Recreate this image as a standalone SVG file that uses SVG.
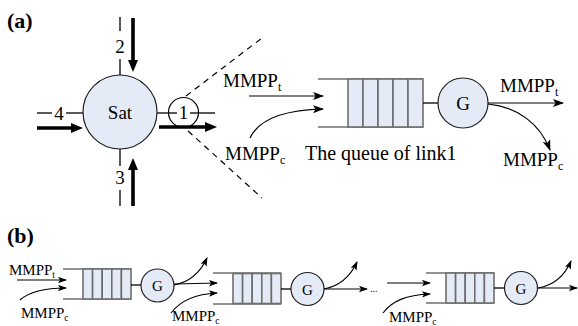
<svg xmlns="http://www.w3.org/2000/svg" width="578" height="326" viewBox="0 0 578 326">
  <style>
    text { font-family: "Liberation Serif", "Times New Roman", serif; fill: #000; }
    .ln { stroke: #000; stroke-width: 1.3; fill: none; }
    .thick { stroke: #000; stroke-width: 3.6; fill: none; marker-end: url(#bighead); }
    .arr { stroke: #000; stroke-width: 1.2; fill: none; marker-end: url(#head); }
    .arrs { stroke: #000; stroke-width: 1.1; fill: none; marker-end: url(#headsm); }
    .dash { stroke: #000; stroke-width: 1.2; fill: none; stroke-dasharray: 6 5; }
    .node { fill: #e4ebf6; stroke: #222; stroke-width: 1.2; }
    .cell { fill: #e4ebf6; stroke: #6e6e6e; stroke-width: 1.6; }
    .rail { stroke: #6e6e6e; stroke-width: 1.6; fill: none; }
    .big { font-size: 19px; }
    .sub { font-size: 12px; }
    .small { font-size: 15px; }
    .ssub { font-size: 9.5px; }
  </style>
  <defs>
    <marker id="bighead" markerUnits="userSpaceOnUse" markerWidth="13" markerHeight="11" refX="3" refY="5" orient="auto">
      <path d="M0,0 L12,5 L0,10 z" fill="#000"/>
    </marker>
    <marker id="head" markerUnits="userSpaceOnUse" markerWidth="12" markerHeight="9" refX="10" refY="4" orient="auto">
      <path d="M0,0 L11,4 L0,8 L2.5,4 z" fill="#000"/>
    </marker>
    <marker id="headsm" markerUnits="userSpaceOnUse" markerWidth="10" markerHeight="8" refX="8" refY="3.25" orient="auto">
      <path d="M0,0 L9,3.25 L0,6.5 L2,3.25 z" fill="#000"/>
    </marker>
    <g id="cells-a">
      <rect class="cell" x="0" y="0" width="15" height="48"/>
      <rect class="cell" x="15" y="0" width="15" height="48"/>
      <rect class="cell" x="30" y="0" width="15" height="48"/>
      <rect class="cell" x="45" y="0" width="15" height="48"/>
      <rect class="cell" x="60" y="0" width="15" height="48"/>
    </g>
    <g id="cells-b">
      <rect class="cell" x="0" y="0" width="9.6" height="30"/>
      <rect class="cell" x="9.6" y="0" width="9.6" height="30"/>
      <rect class="cell" x="19.2" y="0" width="9.6" height="30"/>
      <rect class="cell" x="28.8" y="0" width="9.6" height="30"/>
      <rect class="cell" x="38.4" y="0" width="9.6" height="30"/>
    </g>
  </defs>

  <!-- panel labels -->
  <text x="7" y="28" font-size="22" font-weight="bold">(a)</text>
  <text x="7" y="243" font-size="22" font-weight="bold">(b)</text>

  <!-- (a) satellite with its four links -->
  <g id="sat">
    <circle class="node" cx="120" cy="112" r="37"/>
    <text x="120" y="119" class="big" font-size="20" text-anchor="middle">Sat</text>
  </g>
  <g id="link2">
    <line class="ln" x1="120" y1="17" x2="120" y2="31"/>
    <text x="120" y="53" class="big" text-anchor="middle">2</text>
    <line class="ln" x1="120" y1="59" x2="120" y2="75"/>
  </g>
  <g id="link3">
    <line class="ln" x1="120" y1="149" x2="120" y2="166"/>
    <text x="120" y="184" class="big" text-anchor="middle">3</text>
    <line class="ln" x1="120" y1="190" x2="120" y2="206"/>
  </g>
  <g id="link4">
    <line class="ln" x1="37" y1="113" x2="52" y2="113"/>
    <text x="59" y="119.5" class="big" text-anchor="middle">4</text>
    <line class="ln" x1="66" y1="113" x2="83" y2="113"/>
  </g>
  <g id="link1">
    <line class="ln" x1="157" y1="113" x2="177" y2="113"/>
    <circle cx="183.5" cy="112.5" r="15" fill="none" stroke="#000" stroke-width="1.2"/>
    <text x="183.5" y="119" class="big" text-anchor="middle">1</text>
    <line class="ln" x1="190" y1="113" x2="215" y2="113"/>
  </g>

  <!-- (a) queue of link 1 -->
  <g id="queue-a">
    <line class="rail" x1="318" y1="79" x2="423" y2="79"/>
    <line class="rail" x1="318" y1="127" x2="423" y2="127"/>
    <use href="#cells-a" x="348" y="79"/>
    <line class="ln" x1="423" y1="103" x2="438" y2="103"/>
  </g>
  <g id="server-a">
    <circle class="node" cx="463" cy="103" r="25"/>
    <text x="463" y="110" class="big" text-anchor="middle">G</text>
  </g>

  <!-- (b) tandem of queues -->
  <g id="queue-b1">
    <line class="rail" x1="63" y1="269" x2="131" y2="269"/>
    <line class="rail" x1="63" y1="299" x2="131" y2="299"/>
    <use href="#cells-b" x="83" y="269"/>
    <line class="ln" x1="131" y1="285" x2="141" y2="285"/>
  </g>
  <g id="server-b1">
    <circle class="node" cx="157.5" cy="285.5" r="16.5"/>
    <text x="157.5" y="291" class="small" font-size="16" text-anchor="middle">G</text>
  </g>
  <g id="queue-b2">
    <line class="rail" x1="213" y1="273" x2="281" y2="273"/>
    <line class="rail" x1="213" y1="304" x2="281" y2="304"/>
    <use href="#cells-b" x="233" y="273.5"/>
    <line class="ln" x1="281" y1="289" x2="291" y2="289"/>
  </g>
  <g id="server-b2">
    <circle class="node" cx="307.5" cy="289" r="16.5"/>
    <text x="307.5" y="294.5" class="small" font-size="16" text-anchor="middle">G</text>
  </g>
  <g id="queue-b3">
    <line class="rail" x1="426" y1="273" x2="494" y2="273"/>
    <line class="rail" x1="426" y1="303" x2="494" y2="303"/>
    <use href="#cells-b" x="446" y="273"/>
    <line class="ln" x1="494" y1="288" x2="504" y2="288"/>
  </g>
  <g id="server-b3">
    <circle class="node" cx="521" cy="288" r="16.5"/>
    <text x="521" y="293.5" class="small" font-size="16" text-anchor="middle">G</text>
  </g>

  <!-- connectors -->
  <g id="connectors">
    <!-- traffic on the satellite links -->
    <line class="thick" x1="133" y1="18" x2="133" y2="63"/>
    <line class="thick" x1="133" y1="206" x2="133" y2="167"/>
    <line class="thick" x1="37" y1="128" x2="74" y2="128"/>
    <line class="thick" x1="159" y1="127" x2="208" y2="127"/>
    <!-- zoom-out guides -->
    <line class="dash" x1="186" y1="96" x2="262" y2="38"/>
    <line class="dash" x1="188" y1="131" x2="262" y2="198"/>
    <!-- (a) arrivals and departures -->
    <line class="arr" x1="249" y1="96" x2="323" y2="96"/>
    <path class="arr" d="M250,138 C258,121 280,110 323,109"/>
    <line class="arr" x1="488" y1="103" x2="563" y2="103"/>
    <path class="arr" d="M488,104 C518,107 540,124 550,150"/>
    <!-- (b) flows -->
    <line class="arrs" x1="17" y1="280" x2="66" y2="280"/>
    <path class="arrs" d="M20,300 C30,291 45,288 66,288"/>
    <path class="arrs" d="M174,285 C190,282 201,271 207,258"/>
    <line class="arrs" x1="174" y1="284" x2="217" y2="283"/>
    <path class="arrs" d="M171,313 C180,301 196,294 217,293"/>
    <path class="arrs" d="M324,289 C340,286 351,275 357,262"/>
    <line class="arrs" x1="324" y1="289" x2="367" y2="289"/>
    <line class="arrs" x1="387" y1="283" x2="430" y2="283"/>
    <path class="arrs" d="M383,313 C392,301 406,295 430,294"/>
    <path class="arrs" d="M538,288 C555,285 565,275 571,261"/>
    <line class="arrs" x1="538" y1="288" x2="577" y2="288"/>
  </g>

  <!-- flow labels -->
  <text x="223" y="87" class="big">MMPP<tspan class="sub" dy="4">t</tspan></text>
  <text x="225" y="160" class="big">MMPP<tspan class="sub" dy="4">c</tspan></text>
  <text x="305" y="160" font-size="20">The queue of link1</text>
  <text x="500" y="92" class="big">MMPP<tspan class="sub" dy="4">t</tspan></text>
  <text x="503" y="166" class="big">MMPP<tspan class="sub" dy="4">c</tspan></text>

  <text x="9" y="275" class="small">MMPP<tspan class="ssub" dy="3">t</tspan></text>
  <text x="21" y="318" class="small">MMPP<tspan class="ssub" dy="3">c</tspan></text>
  <text x="172" y="321" class="small">MMPP<tspan class="ssub" dy="3">c</tspan></text>
  <text x="370" y="292" font-size="10">...</text>
  <text x="389" y="322" class="small">MMPP<tspan class="ssub" dy="3">c</tspan></text>
</svg>
